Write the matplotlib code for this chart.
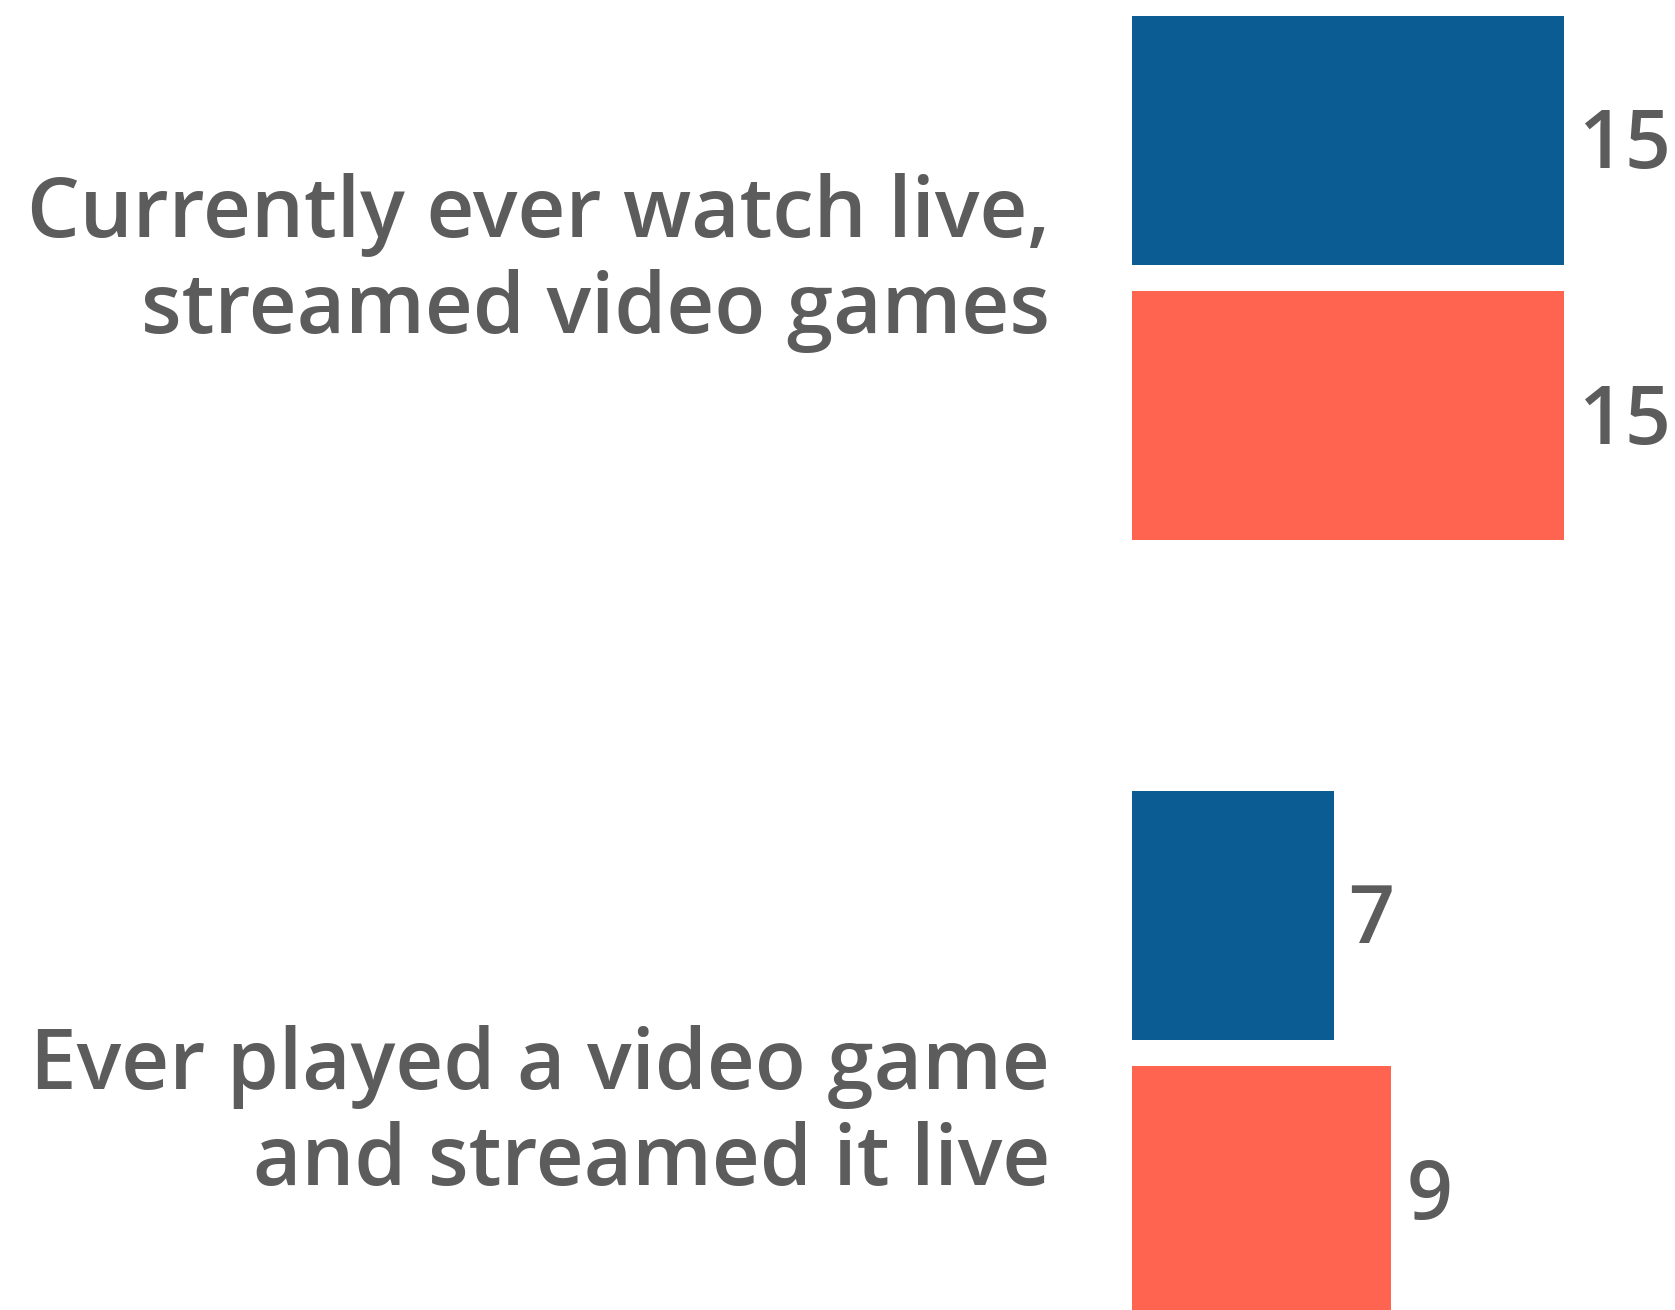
import matplotlib
matplotlib.use("Agg")
import matplotlib.pyplot as plt
import numpy as np

# data
categories = ["Currently ever watch live,\nstreamed video games",
              "Ever played a video game\nand streamed it live"]
series_a = [15, 7]
series_b = [15, 9]
colors = ["#0c5c94", "#ff6450"]
text_color = "#5c5c5c"

plt.rcParams['font.family'] = ['Open Sans', 'DejaVu Sans']

W, H = 1675, 1310
fig = plt.figure(figsize=(W / 100, H / 100), dpi=100)
ax = fig.add_axes([1132 / W, 0, (W - 1132) / W, 1])

y = np.arange(len(categories))
bar_h = 249 / 775
off = 137.75 / 775

ax.barh(y - off, series_a, height=bar_h, color=colors[0])
ax.barh(y + off, series_b, height=bar_h, color=colors[1])

for yy, vals in ((y - off, series_a), (y + off, series_b)):
    for yi, v in zip(yy, vals):
        ax.annotate(str(v), xy=(v, yi), xytext=(15, -7), textcoords='offset pixels',
                    ha='left', va='center', fontsize=58, fontweight='semibold',
                    color=text_color, annotation_clip=False)

# label offsets (pixels) relative to group centre
label_shift = [-15, 62]
for yi, lab, s in zip(y, categories, label_shift):
    ax.annotate(lab, xy=(0, yi), xytext=(-82, -s), textcoords='offset pixels',
                ha='right', va='center', multialignment='right',
                fontsize=60, fontweight='semibold', color=text_color,
                linespacing=1.2, annotation_clip=False)

ax.set_xlim(0, (W - 1132) / 28.8)
ax.set_ylim((H - 278) / 775, -278 / 775)
ax.axis('off')

fig.savefig("out.png", dpi=100)
